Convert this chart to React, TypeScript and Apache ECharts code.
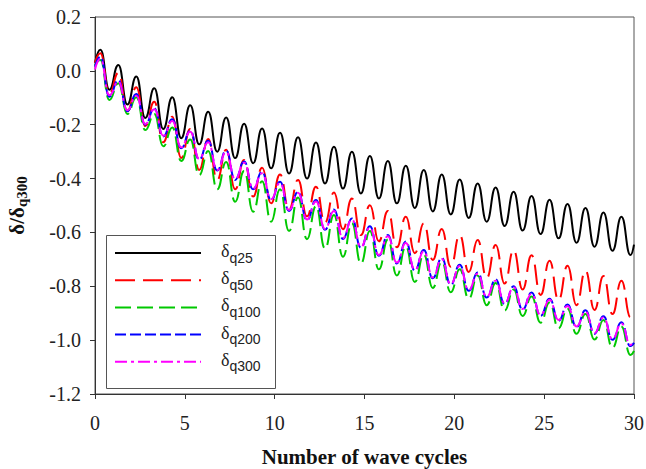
import { useEffect, useRef } from "react";
import * as echarts from "echarts";

// Series names (δ with subscript q-value) and colours
const SERIES_NAMES = ["δq25", "δq50", "δq100", "δq200", "δq300"];
const COLORS = ["#000000", "#ff0000", "#00c800", "#0000ff", "#ff00ff"];

// Position of each crest / trough within a wave cycle
const PEAK_X = 0.3;
const TROUGH_X = 0.8;
const X_END = 30;

// Value at cycle 0 and at cycle 30
const START_VALUES = [0.03, 0.03, 0.02, 0.015, 0.005];
const END_VALUES = [-0.645, -0.895, -1.04, -1.01, -1.0];

// Crest values, one per wave cycle (0..29)
const q25Peaks = [0.078, 0.022, -0.021, -0.065, -0.098, -0.128, -0.152, -0.173, -0.196, -0.214, -0.23, -0.247, -0.266, -0.282, -0.3, -0.316, -0.335, -0.352, -0.368, -0.385, -0.403, -0.418, -0.433, -0.449, -0.465, -0.479, -0.494, -0.509, -0.526, -0.542];
const q50Peaks = [0.065, -0.007, -0.061, -0.115, -0.17, -0.216, -0.253, -0.293, -0.331, -0.36, -0.385, -0.405, -0.43, -0.452, -0.474, -0.499, -0.52, -0.542, -0.566, -0.587, -0.61, -0.628, -0.647, -0.666, -0.685, -0.705, -0.724, -0.742, -0.762, -0.779];
const q100Peaks = [0.04, -0.046, -0.098, -0.16, -0.21, -0.255, -0.298, -0.338, -0.372, -0.41, -0.44, -0.47, -0.502, -0.535, -0.566, -0.595, -0.626, -0.652, -0.682, -0.709, -0.737, -0.76, -0.788, -0.812, -0.838, -0.86, -0.883, -0.903, -0.925, -0.95];
const q200Peaks = [0.053, -0.034, -0.086, -0.139, -0.18, -0.222, -0.26, -0.296, -0.337, -0.375, -0.412, -0.449, -0.48, -0.515, -0.548, -0.577, -0.61, -0.634, -0.665, -0.695, -0.72, -0.749, -0.774, -0.8, -0.823, -0.846, -0.868, -0.889, -0.911, -0.934];
const q300Peaks = [0.045, -0.04, -0.092, -0.143, -0.186, -0.226, -0.265, -0.301, -0.341, -0.38, -0.416, -0.453, -0.485, -0.52, -0.552, -0.582, -0.614, -0.639, -0.67, -0.699, -0.725, -0.753, -0.779, -0.804, -0.828, -0.85, -0.873, -0.894, -0.916, -0.938];

// Trough values, one per wave cycle (0..29)
const q25Troughs = [-0.07, -0.125, -0.175, -0.216, -0.25, -0.273, -0.3, -0.324, -0.343, -0.362, -0.381, -0.4, -0.418, -0.437, -0.455, -0.474, -0.492, -0.509, -0.522, -0.533, -0.546, -0.56, -0.576, -0.593, -0.606, -0.622, -0.638, -0.653, -0.668, -0.684];
const q50Troughs = [-0.085, -0.15, -0.205, -0.265, -0.324, -0.368, -0.405, -0.44, -0.467, -0.492, -0.516, -0.54, -0.564, -0.588, -0.61, -0.633, -0.655, -0.677, -0.702, -0.727, -0.747, -0.769, -0.79, -0.812, -0.832, -0.851, -0.87, -0.888, -0.903, -0.915];
const q100Troughs = [-0.108, -0.16, -0.22, -0.28, -0.335, -0.387, -0.44, -0.486, -0.523, -0.56, -0.595, -0.625, -0.66, -0.69, -0.715, -0.737, -0.76, -0.784, -0.806, -0.822, -0.846, -0.87, -0.89, -0.91, -0.935, -0.956, -0.976, -0.998, -1.028, -1.055];
const q200Troughs = [-0.096, -0.15, -0.2, -0.244, -0.287, -0.33, -0.37, -0.405, -0.44, -0.48, -0.52, -0.555, -0.59, -0.624, -0.657, -0.687, -0.715, -0.742, -0.77, -0.795, -0.817, -0.842, -0.866, -0.887, -0.91, -0.928, -0.952, -0.977, -0.999, -1.022];
const q300Troughs = [-0.09, -0.146, -0.197, -0.241, -0.284, -0.327, -0.368, -0.402, -0.437, -0.477, -0.517, -0.552, -0.587, -0.621, -0.654, -0.684, -0.712, -0.739, -0.767, -0.792, -0.814, -0.839, -0.863, -0.884, -0.907, -0.925, -0.949, -0.974, -0.996, -1.018];

const PEAKS = [q25Peaks, q50Peaks, q100Peaks, q200Peaks, q300Peaks];
const TROUGHS = [q25Troughs, q50Troughs, q100Troughs, q200Troughs, q300Troughs];

// Dash patterns: solid, long dash, medium dash, short dash, dash-dot
const DASHES: (string | number[])[] = ["solid", [20, 8], [16, 6], [11, 4], [12, 4, 3, 4]];

const SERIF = "Liberation Serif";
const SANS = "Liberation Sans";

const tickRich = {
  v: { fontFamily: SERIF, fontSize: 20, color: "#222" },
};

function buildPoints(i: number): number[][] {
  const pts: number[][] = [[0, START_VALUES[i]]];
  const peaks = PEAKS[i];
  const troughs = TROUGHS[i];
  for (let n = 0; n < peaks.length; n++) {
    pts.push([n + PEAK_X, peaks[n]]);
    pts.push([n + TROUGH_X, troughs[n]]);
  }
  pts.push([X_END, END_VALUES[i]]);
  return pts;
}

export default function App() {
  const ref = useRef<HTMLDivElement>(null);

  useEffect(() => {
    if (!ref.current) return;
    const chart = echarts.init(ref.current, undefined, { renderer: "svg" });

    const series = SERIES_NAMES.map((name, i) => ({
      name,
      type: "line",
      data: buildPoints(i),
      smooth: 0.5,
      smoothMonotone: "x",
      symbol: "none",
      showSymbol: false,
      color: COLORS[i],
      lineStyle: { color: COLORS[i], width: 2, type: DASHES[i] },
      z: 2 + i,
    }));

    chart.setOption({
      animation: false,
      backgroundColor: "#ffffff",
      textStyle: { fontFamily: SERIF },
      grid: {
        left: 95,
        right: 12,
        top: 17,
        bottom: 75,
        outerBoundsMode: "none",
        containLabel: false,
        show: true,
        borderColor: "#555555",
        borderWidth: 1,
        backgroundColor: "transparent",
      },
      xAxis: {
        type: "value",
        min: 0,
        max: 30,
        interval: 5,
        name: "Number of wave cycles",
        nameLocation: "middle",
        nameGap: 52,
        nameTextStyle: { fontFamily: SERIF, fontSize: 21, fontWeight: "bold", color: "#111" },
        axisLine: { show: true, onZero: false, lineStyle: { color: "#333", width: 1 } },
        axisTick: { show: true, length: 5, lineStyle: { color: "#333" } },
        axisLabel: {
          fontFamily: SERIF,
          fontSize: 20,
          color: "#222",
          margin: 19,
          formatter: (v: number) => `{v|${v}}`,
          rich: tickRich,
        },
        splitLine: { show: false },
      },
      yAxis: {
        type: "value",
        min: -1.2,
        max: 0.2,
        interval: 0.2,
        name: "{a|δ/δ}{b|q300}",
        nameLocation: "middle",
        nameGap: 66,
        nameTextStyle: {
          rich: {
            a: { fontFamily: SERIF, fontSize: 21, fontWeight: "bold", color: "#111" },
            b: { fontFamily: SERIF, fontSize: 15, fontWeight: "bold", color: "#111", padding: [10, 0, 0, 0] },
          },
        },
        axisLine: { show: true, onZero: false, lineStyle: { color: "#333", width: 1 } },
        axisTick: { show: true, length: 5, lineStyle: { color: "#333" } },
        axisLabel: {
          fontFamily: SERIF,
          fontSize: 20,
          color: "#222",
          margin: 14,
          formatter: (v: number) => `{v|${Math.abs(v) < 1e-9 ? "0.0" : v.toFixed(1)}}`,
          rich: tickRich,
        },
        splitLine: { show: false },
      },
      legend: {
        orient: "vertical",
        left: 114,
        top: 242,
        padding: 0,
        itemWidth: 86,
        itemHeight: 14,
        itemGap: 4.7,
        itemStyle: { opacity: 0 },
        data: SERIES_NAMES,
        formatter: (name: string) => `{d|δ}{s|${name.slice(1)}}`,
        textStyle: {
          padding: [0, 0, 4, 15],
          rich: {
            d: { fontFamily: SERIF, fontSize: 18, color: "#222" },
            s: { fontFamily: SANS, fontSize: 14, color: "#222", padding: [13, 0, 0, 0] },
          },
        },
      },
      graphic: [
        {
          type: "rect",
          left: 104,
          top: 233,
          shape: { width: 169, height: 153 },
          style: { fill: "none", stroke: "#555555", lineWidth: 1 },
          z: 0,
        },
      ],
      series,
    });

    return () => chart.dispose();
  }, []);

  return (
    <div
      ref={ref}
      style={{ position: "fixed", left: 0, top: 0, width: 646, height: 469, background: "#fff" }}
    />
  );
}
